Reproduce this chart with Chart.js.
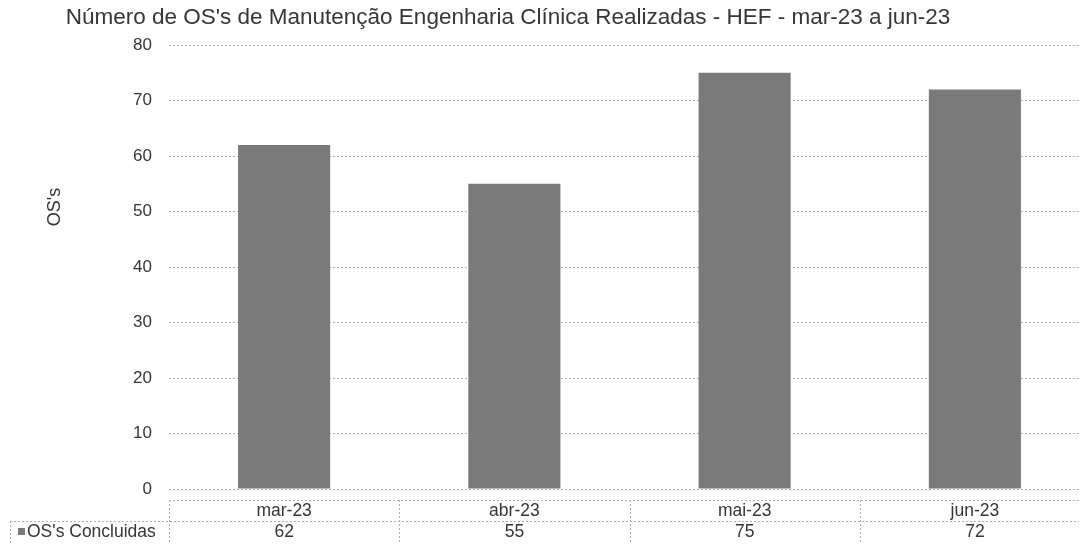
<!DOCTYPE html>
<html>
<head>
<meta charset="utf-8">
<script src="https://cdn.jsdelivr.net/npm/chart.js@4"></script>
<style>
  html, body { margin: 0; padding: 0; background: #fff; overflow: hidden; }
  #wrap { width: 1090px; height: 544px; position: relative; }
</style>
</head>
<body>
<div id="wrap"><canvas id="osChart"></canvas></div>
<script>
// OS's de manutenção - engenharia clínica
const meses = ['mar-23', 'abr-23', 'mai-23', 'jun-23'];
const concluidas = [62, 55, 75, 72];
const serieNome = "OS's Concluidas";
const eixoY = "OS's";
const titulo = "Número de OS's de Manutenção Engenharia Clínica Realizadas - HEF - mar-23 a jun-23";

const corTexto = '#363636';
const corBarra = '#7a7a7a';
const corGrade = '#b0b0b0';
const fonte = 'Arial, "Liberation Sans", sans-serif';

// título, rótulo do eixo e tabela de dados abaixo do gráfico
const tabelaPlugin = {
    id: 'tabelaDados',
    afterDraw(chart) {
        const ctx = chart.ctx;
        const x = chart.scales.x;
        const area = chart.chartArea;
        const topo = 500, meio = 521, base = 544;
        const passo = (x.getPixelForValue(1) - x.getPixelForValue(0));

        ctx.save();
        // título
        ctx.fillStyle = corTexto;
        ctx.font = '22.5px ' + fonte;
        ctx.textAlign = 'center';
        ctx.textBaseline = 'middle';
        ctx.fillText(titulo, 508, 18);

        // rótulo do eixo Y
        ctx.save();
        ctx.translate(55, 207);
        ctx.rotate(-Math.PI / 2);
        ctx.font = '18px ' + fonte;
        ctx.fillText(eixoY, 0, 0);
        ctx.restore();

        // linhas da tabela
        ctx.strokeStyle = corGrade;
        ctx.lineWidth = 1;
        ctx.setLineDash([2, 2]);
        ctx.beginPath();
        ctx.moveTo(area.left, topo + 0.5);
        ctx.lineTo(chart.width, topo + 0.5);
        ctx.moveTo(10, meio + 0.5);
        ctx.lineTo(chart.width, meio + 0.5);
        ctx.moveTo(10.5, meio);
        ctx.lineTo(10.5, base);
        for (let i = 0; i <= meses.length; i++) {
            const px = Math.round(x.getPixelForValue(i) - passo / 2) + 0.5;
            ctx.moveTo(px, topo);
            ctx.lineTo(px, base);
        }
        ctx.stroke();
        ctx.setLineDash([]);

        // rótulos e valores
        ctx.font = '17.5px ' + fonte;
        ctx.fillStyle = corTexto;
        meses.forEach((m, i) => {
            const px = x.getPixelForValue(i);
            ctx.fillText(m, px, 511);
            ctx.fillText(String(concluidas[i]), px, 532);
        });

        // legenda da linha
        ctx.fillStyle = corBarra;
        ctx.fillRect(18, 528, 7, 7);
        ctx.fillStyle = corTexto;
        ctx.textAlign = 'left';
        ctx.fillText(serieNome, 27, 532);
        ctx.restore();
    }
};

new Chart(document.getElementById('osChart'), {
    type: 'bar',
    data: {
        labels: meses,
        datasets: [{
            label: serieNome,
            data: concluidas,
            backgroundColor: corBarra,
            borderWidth: 0,
            categoryPercentage: 0.4,
            barPercentage: 1
        }]
    },
    options: {
        responsive: true,
        maintainAspectRatio: false,
        animation: false,
        layout: { padding: { top: 45, bottom: 55, left: 0, right: 0 } },
        plugins: {
            legend: { display: false },
            title: { display: false },
            tooltip: { enabled: false }
        },
        scales: {
            x: {
                display: false
            },
            y: {
                min: 0,
                max: 80,
                afterFit(scale) { scale.width = 169; },
                border: { display: false, dash: [2, 2] },
                grid: {
                    color: corGrade,
                    drawTicks: false
                },
                ticks: {
                    stepSize: 10,
                    padding: 17,
                    color: corTexto,
                    font: { family: fonte, size: 17 }
                }
            }
        }
    },
    plugins: [tabelaPlugin]
});
</script>
</body>
</html>
